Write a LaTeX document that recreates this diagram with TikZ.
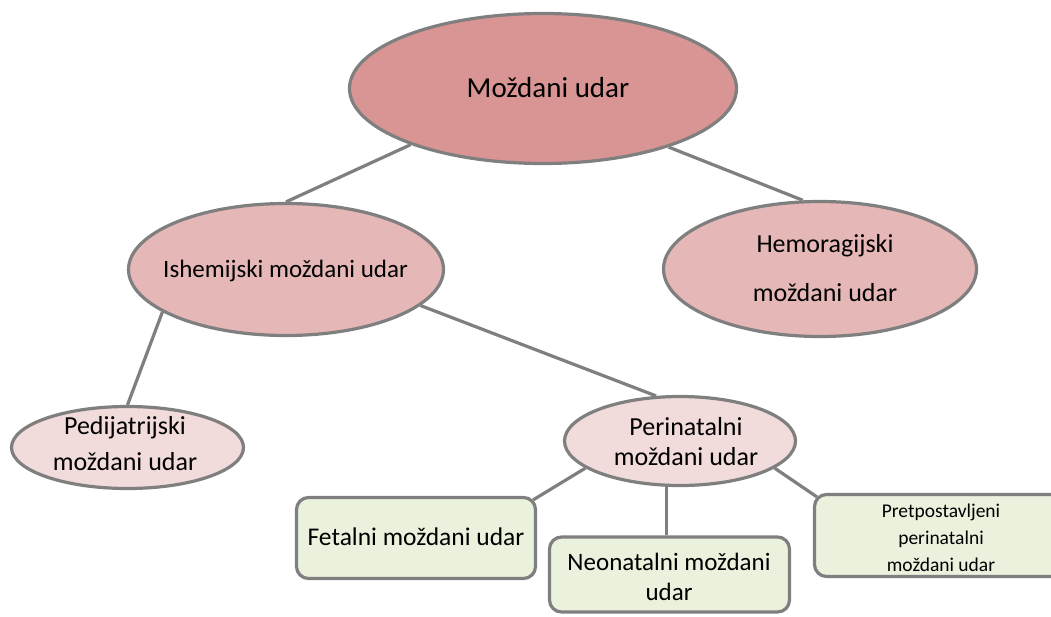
\documentclass[tikz,border=0pt]{standalone}
\usepackage{fontspec}
\setmainfont{Carlito}
\usetikzlibrary{shapes.geometric}
\pgfdeclarelayer{bg}
\pgfsetlayers{bg,main}
\definecolor{bordergray}{HTML}{7F7F7F}
\definecolor{cmain}{HTML}{D99594}
\definecolor{cmid}{HTML}{E5B8B7}
\definecolor{clow}{HTML}{F2DBDB}
\definecolor{cbox}{HTML}{EAF1DD}
\begin{document}
\begin{tikzpicture}[x=1pt,y=-1pt,
  oval/.style={ellipse, draw=bordergray, line width=3.2pt, inner sep=0pt},
  roundbox/.style={rectangle, rounded corners=12pt, draw=bordergray, line width=3.2pt, inner sep=0pt, fill=cbox},
  link/.style={draw=bordergray, line width=3.2pt},
  lbl/.style={inner sep=0pt, align=center, text=black}]
\useasboundingbox (0,0) rectangle (1051,616);

% shapes
\node[oval, fill=cmain, minimum width=387pt, minimum height=150pt] (main) at (543,88.5) {};
\node[oval, fill=cmid, minimum width=315pt, minimum height=132pt] (ish) at (286,269.5) {};
\node[oval, fill=cmid, minimum width=313pt, minimum height=135pt] (hemo) at (820,269) {};
\node[oval, fill=clow, minimum width=232pt, minimum height=82pt] (ped) at (127.5,447.5) {};
\node[oval, fill=clow, minimum width=231pt, minimum height=89pt] (peri) at (680,441) {};
\node[roundbox, minimum width=239pt, minimum height=81pt] (fet) at (416,538) {};
\node[roundbox, minimum width=240pt, minimum height=75pt] (neo) at (669.5,574.5) {};
\node[roundbox, minimum width=255pt, minimum height=82pt] (pret) at (942,535.5) {};

% labels
\node[lbl, font=\fontsize{29}{35}\selectfont] (mainT) at (548,88) {Moždani udar};
\node[lbl, font=\fontsize{25}{30}\selectfont] (ishT) at (285.5,271) {Ishemijski moždani udar};
\node[lbl, font=\fontsize{26}{49}\selectfont] (hemoT) at (825,268) {Hemoragijski\\moždani udar};
\node[lbl, font=\fontsize{26}{36}\selectfont] (pedT) at (125,444) {Pedijatrijski\\moždani udar};
\node[lbl, font=\fontsize{26}{30}\selectfont] (periT) at (686,442) {Perinatalni\\moždani udar};
\node[lbl, font=\fontsize{25.5}{30}\selectfont] (fetT) at (416,537) {Fetalni moždani udar};
\node[lbl, font=\fontsize{25}{30}\selectfont] (neoT) at (669,577) {Neonatalni moždani\\udar};
\node[lbl, font=\fontsize{19.5}{27}\selectfont] (pretT) at (941,538) {Pretpostavljeni\\perinatalni\\moždani udar};

% connectors
\begin{pgfonlayer}{bg}
\draw[link] (main.203.3) -- (ish.north);
\draw[link] (main.-25.6) -- (hemo.104);
\draw[link] (ish.199.8) -- (ped.north);
\draw[link] (ish.-15.8) -- (peri.118);
\draw[link] (peri.196.2) -- ([xshift=-4pt,yshift=-4pt]fet.north east);
\draw[link] ([xshift=-3pt]neo.north) -- ([xshift=-3pt]neo.north |- peri.center);
\draw[link] (peri.-16.5) -- ([xshift=4pt,yshift=-4pt]pret.north west);
\end{pgfonlayer}
\end{tikzpicture}
\end{document}
